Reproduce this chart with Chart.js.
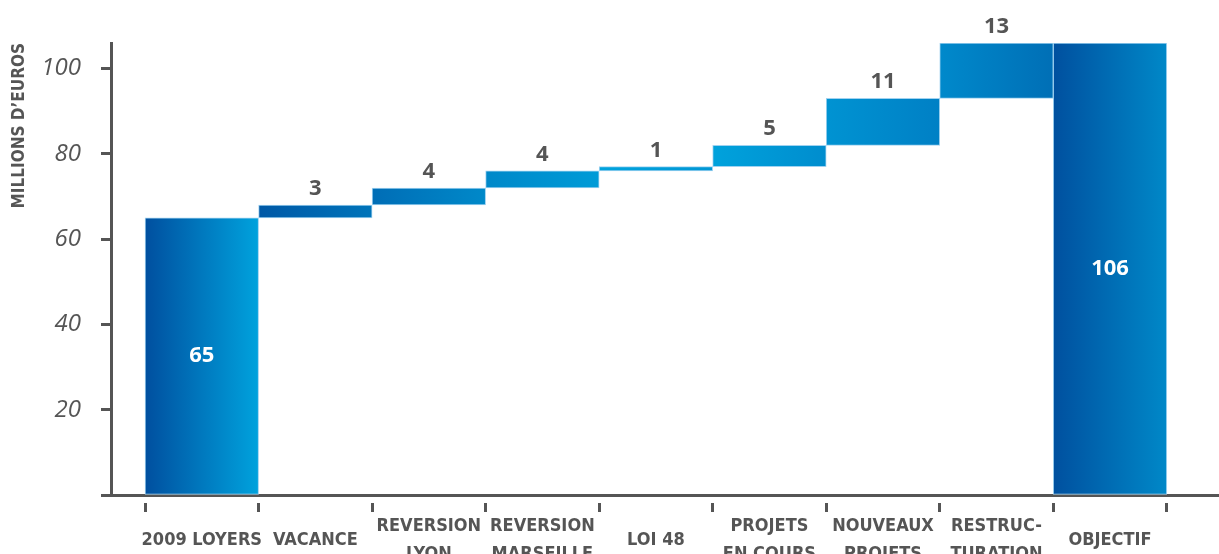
<!DOCTYPE html>
<html>
<head>
<meta charset="utf-8">
<script src="https://cdn.jsdelivr.net/npm/chart.js@4/dist/chart.umd.min.js"></script>
<style>
  html, body { margin: 0; padding: 0; background: #fff; }
  #wrap { width: 1219px; height: 554px; position: relative; }
</style>
</head>
<body>
<div id="wrap"><canvas id="waterfall"></canvas></div>
<script>
const categories = [
  ['2009 LOYERS'],
  ['VACANCE'],
  ['REVERSION', 'LYON'],
  ['REVERSION', 'MARSEILLE'],
  ['LOI 48'],
  ['PROJETS', 'EN COURS'],
  ['NOUVEAUX', 'PROJETS'],
  ['RESTRUC-', 'TURATION'],
  ['OBJECTIF']
];
const startValue = 65;
const deltas = [3, 4, 4, 1, 5, 11, 13];
const totalValue = 106;
const yTicks = [0, 20, 40, 60, 80, 100];

// left/right gradient stops per bar
const barColors = [
  ['#004f9f', '#00a2dd'],
  ['#0058a6', '#0074ba'],
  ['#006db6', '#0089c9'],
  ['#0088c9', '#009bd7'],
  ['#00a3dd', '#0096d4'],
  ['#00a2dc', '#008dce'],
  ['#0093d2', '#0080c5'],
  ['#0089cb', '#006fb6'],
  ['#00509f', '#0088c8']
];

const textGrey = '#555555';
const axisGrey = '#555555';
const labelFont = "'Liberation Sans Narrow', 'DejaVu Sans Condensed', 'Arial Narrow', sans-serif";

// floating ranges for the waterfall
const ranges = [[0, startValue]];
let running = startValue;
deltas.forEach((d) => {
  ranges.push([running, running + d]);
  running += d;
});
ranges.push([0, totalValue]);

const barData = ranges.map((r, i) => ({ x: i, y: r }));

function barGradient(context) {
  const chart = context.chart;
  const i = context.dataIndex;
  const xScale = chart.scales.x;
  if (!chart.chartArea || !xScale || i === undefined) {
    return barColors[0][0];
  }
  const cx = xScale.getPixelForValue(i);
  const half = (xScale.getPixelForValue(1) - xScale.getPixelForValue(0)) / 2;
  const g = chart.ctx.createLinearGradient(cx - half, 0, cx + half, 0);
  g.addColorStop(0, barColors[i][0]);
  g.addColorStop(1, barColors[i][1]);
  return g;
}

const valueLabels = {
  id: 'valueLabels',
  afterDatasetsDraw(chart) {
    const ctx = chart.ctx;
    const bars = chart.getDatasetMeta(0).data;
    ctx.save();
    ctx.textAlign = 'center';
    ctx.font = "bold 22px 'Open Sans', sans-serif";
    bars.forEach((bar, i) => {
      if (i === 0 || i === bars.length - 1) {
        const value = i === 0 ? startValue : totalValue;
        ctx.fillStyle = '#ffffff';
        ctx.textBaseline = 'middle';
        ctx.fillText(String(value), bar.x, (bar.y + bar.base) / 2);
      } else {
        ctx.fillStyle = textGrey;
        ctx.textBaseline = 'alphabetic';
        ctx.fillText(String(deltas[i - 1]), bar.x, Math.min(bar.y, bar.base) - 10);
      }
    });
    ctx.restore();
  }
};

new Chart(document.getElementById('waterfall'), {
  type: 'bar',
  data: {
    datasets: [{
      data: barData,
      backgroundColor: barGradient,
      borderColor: 'rgba(160, 210, 240, 1)',
      borderWidth: 1,
      borderSkipped: false,
      categoryPercentage: 1,
      barPercentage: 1
    }]
  },
  options: {
    responsive: true,
    maintainAspectRatio: false,
    animation: false,
    layout: { padding: { top: 43, right: 0, bottom: 0, left: 0 } },
    plugins: {
      legend: { display: false },
      tooltip: { enabled: false }
    },
    scales: {
      x: {
        type: 'linear',
        bounds: 'data',
        offset: false,
        min: -0.8,
        max: 8.96,
        afterBuildTicks: (scale) => {
          scale.ticks = categories.map((_, i) => ({ value: i }));
        },
        afterFit: (scale) => {
          scale.height = 59;
        },
        grid: {
          drawOnChartArea: false,
          offset: true,
          tickLength: 17,
          tickColor: axisGrey,
          tickWidth: 3,
          tickBorderDash: [0, 6, 11, 100]
        },
        border: { color: axisGrey, width: 3 },
        ticks: {
          autoSkip: false,
          maxRotation: 0,
          crossAlign: 'center',
          padding: 14,
          color: textGrey,
          font: { family: labelFont, size: 18, weight: 'bold', lineHeight: 28 / 18 },
          callback: (value) => categories[value] || ''
        }
      },
      y: {
        min: 0,
        max: totalValue,
        bounds: 'data',
        afterBuildTicks: (scale) => {
          scale.ticks = yTicks.map((v) => ({ value: v }));
        },
        afterFit: (scale) => {
          scale.width = 111;
        },
        grid: {
          drawOnChartArea: false,
          tickLength: 10,
          tickColor: axisGrey,
          tickWidth: 3
        },
        border: { color: axisGrey, width: 3 },
        ticks: {
          padding: 20,
          color: textGrey,
          font: { family: "'Open Sans', sans-serif", size: 24, style: 'italic' },
          callback: (value) => (value === 0 ? '' : String(value))
        },
        title: {
          display: true,
          text: 'MILLIONS D\u2019EUROS',
          align: 'end',
          color: textGrey,
          padding: { top: 9, bottom: 0 },
          font: { family: labelFont, size: 17, weight: 'bold' }
        }
      }
    }
  },
  plugins: [valueLabels]
});
</script>
</body>
</html>
